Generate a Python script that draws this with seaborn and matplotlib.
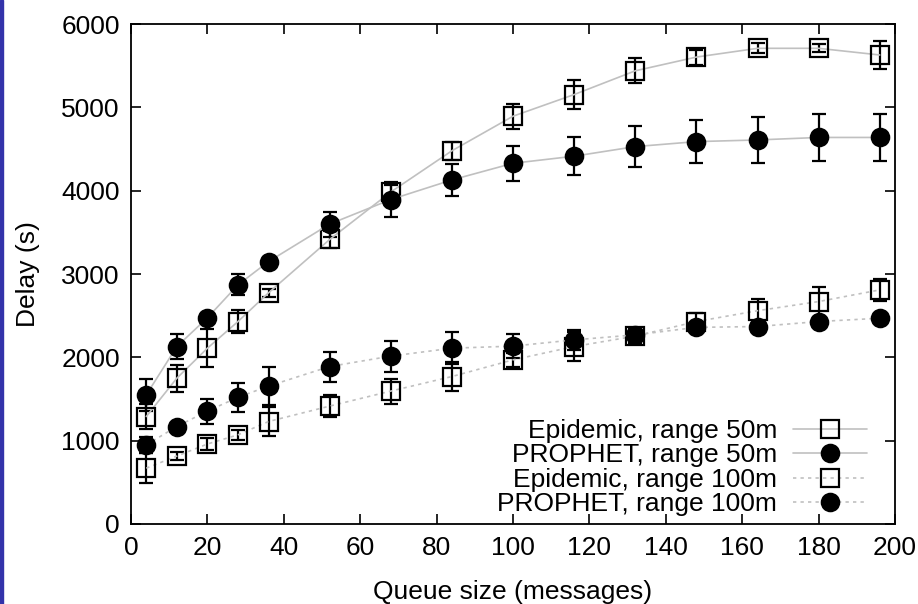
import matplotlib
matplotlib.use('Agg')
import matplotlib.pyplot as plt
from matplotlib.patches import Rectangle
import seaborn as sns
import pandas as pd

# queue sizes (messages)
queue_size = [4, 12, 20, 28, 36, 52, 68, 84, 100, 116, 132, 148, 164, 180, 196]

# delay (s)
epidemic_50 = [1290, 1750, 2110, 2430, 2775, 3415, 3985, 4480, 4895, 5155, 5440, 5605, 5710, 5710, 5630]
epidemic_50_err = [150, 160, 230, 140, 50, 100, 80, 110, 150, 175, 150, 90, 60, 50, 165]
prophet_50 = [1550, 2130, 2475, 2870, 3150, 3600, 3895, 4130, 4330, 4415, 4530, 4590, 4610, 4640, 4640]
prophet_50_err = [190, 150, 60, 125, 60, 150, 215, 190, 210, 225, 245, 255, 280, 280, 280]
epidemic_100 = [670, 815, 960, 1070, 1230, 1415, 1595, 1770, 1970, 2130, 2255, 2430, 2560, 2670, 2810]
epidemic_100_err = [180, 50, 70, 60, 170, 135, 150, 175, 80, 170, 80, 100, 145, 180, 130]
prophet_100 = [950, 1170, 1355, 1520, 1655, 1890, 2015, 2110, 2135, 2210, 2270, 2360, 2370, 2430, 2470]
prophet_100_err = [100, 0, 150, 175, 225, 180, 185, 190, 140, 120, 60, 50, 30, 30, 30]

series_labels = ['Epidemic, range 50m', 'PROPHET, range 50m',
                 'Epidemic, range 100m', 'PROPHET, range 100m']

sns.set_style('ticks')
plt.rcParams['font.family'] = ['Liberation Sans', 'DejaVu Sans']
plt.rcParams['font.size'] = 19
plt.rcParams['text.color'] = 'black'
plt.rcParams['axes.labelcolor'] = 'black'

fig = plt.figure(figsize=(9.18, 6.04), dpi=100)
ax = fig.add_axes([0.1427, 0.1325, 0.8323, 0.8275])

line_gray = '#c0c0c0'
dotted = (0, (2, 2.5))
series = [
    (epidemic_50, epidemic_50_err, 's', '-'),
    (prophet_50, prophet_50_err, 'o', '-'),
    (epidemic_100, epidemic_100_err, 's', dotted),
    (prophet_100, prophet_100_err, 'o', dotted),
]

for (vals, errs, mk, ls), label in zip(series, series_labels):
    df = pd.DataFrame({'q': queue_size, 'delay': vals})
    ax.errorbar(queue_size, vals, yerr=errs, fmt='none', ecolor='black',
                elinewidth=1.6, capsize=5, capthick=1.6, zorder=3)
    face = 'none' if mk == 's' else 'black'
    size = 13 if mk == 's' else 12.5
    sns.lineplot(data=df, x='q', y='delay', ax=ax, color=line_gray,
                 linestyle=ls, linewidth=1.2, marker=mk, markersize=size,
                 markerfacecolor=face, markeredgecolor='black',
                 markeredgewidth=1.6, label=label, zorder=4)

ax.set_xlim(0, 200)
ax.set_ylim(0, 6000)
ax.set_xticks(range(0, 201, 20))
ax.set_yticks(range(0, 6001, 1000))
ax.tick_params(direction='in', length=7, width=1.2, top=True, right=True,
               labelsize=19, colors='black', pad=8)
ax.tick_params(axis='x', pad=9)
for sp in ax.spines.values():
    sp.set_visible(True)
    sp.set_linewidth(1.3)
    sp.set_color('black')

ax.set_xlabel('Queue size (messages)', fontsize=19, labelpad=14)
ax.set_ylabel('Delay (s)', fontsize=19, labelpad=15)

ax.legend(loc='lower right', markerfirst=False, frameon=False,
          fontsize=19, handlelength=2.8, handletextpad=0.6,
          labelspacing=0.02, borderaxespad=0.3, bbox_to_anchor=(0.987, -0.022))

# blue strip on the left edge of the picture
fig.patches.append(Rectangle((0, 0), 2.5 / 918, 1, transform=fig.transFigure,
                             color='#3333aa', zorder=10))

plt.savefig('out.png', dpi=100)
plt.close()
